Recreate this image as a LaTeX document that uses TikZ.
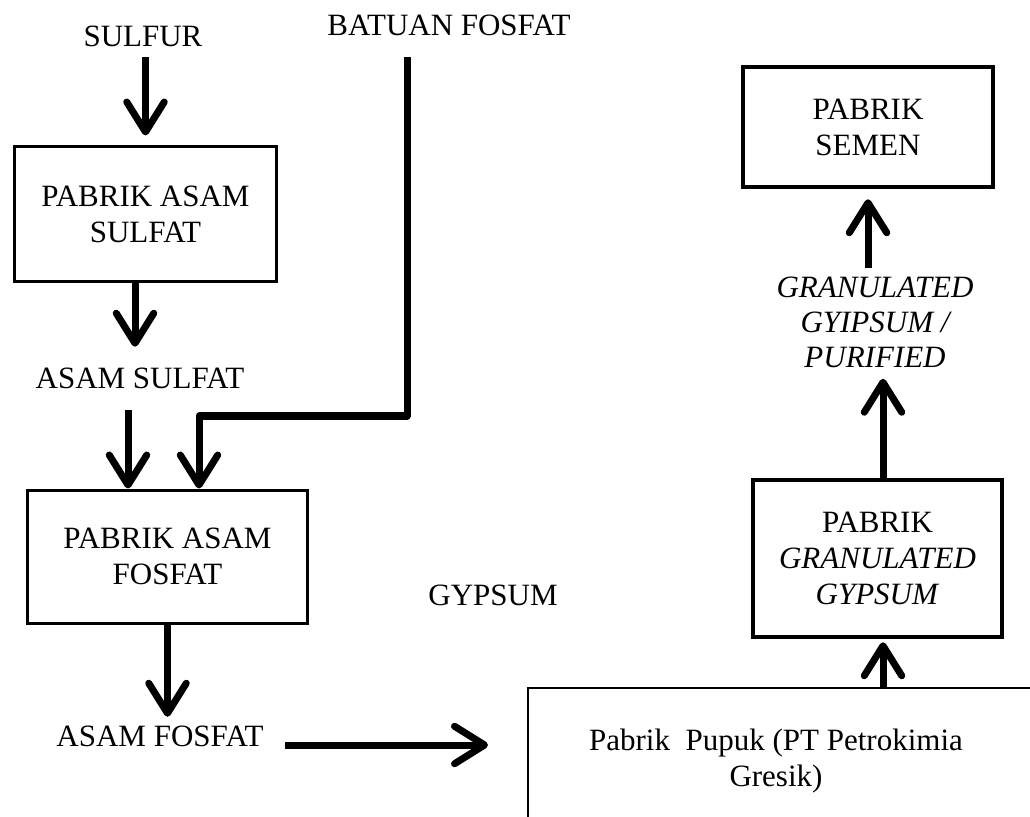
\documentclass[tikz,border=0pt]{standalone}
\usepackage{fontspec}
\setmainfont{Liberation Serif}
\usetikzlibrary{arrows.meta,positioning}

\begin{document}
\begin{tikzpicture}[
  x=0.4pt, y=-0.4pt,
  every node/.style={font=\fontsize{12.4pt}{14.4pt}\selectfont, align=center},
  outline/.style={draw, line width=1.2pt, inner sep=0mm},
  plant/.style={outline, minimum width=104.4pt, minimum height=54pt},
  bigplant/.style={outline, line width=1.8pt},
  flow/.style={line width=2.8pt, line join=round, -{Straight Barb[length=12pt,width=15pt,round]}}
]
\useasboundingbox (0,0) rectangle (1030,817);

% raw materials
\node (Sulfur) at (143,36) {SULFUR};
\node (Batuan) at (449,25) {BATUAN FOSFAT};

% sulfuric acid
\node[plant] (PAS) at (145.5,214.5) {PABRIK ASAM\\SULFAT};
\node (ASul) at (140,378) {ASAM SULFAT};

% phosphoric acid
\node[plant, minimum width=111.6pt, minimum height=53.2pt] (PAF) at (167.5,556.5) {PABRIK ASAM\\FOSFAT};
\node (AFos) at (160,736) {ASAM FOSFAT};
\node (Gypsum) at (493,595) {GYPSUM};

% fertilizer plant, cut by the page edge
\begin{scope}
\clip (0,0) rectangle (1030,817);
\node[outline, line width=0.8pt, anchor=north west, minimum width=240pt, minimum height=80pt] (Pupuk) at (527,687) {};
\end{scope}
\node (PupukText) at (776,761) {Pabrik\ \ Pupuk (PT Petrokimia\\Gresik)};

% gypsum to cement
\node[bigplant, minimum width=99.6pt, minimum height=62.8pt] (GGran) at (877.5,558.5) {PABRIK\\\textit{GRANULATED}\\\textit{GYPSUM}};
\node[font=\fontsize{12.4pt}{14pt}\selectfont\itshape] (GLabel) at (875,322) {GRANULATED\\GYIPSUM /\\PURIFIED};
\node[bigplant, minimum width=100pt, minimum height=48pt] (Semen) at (868,127) {PABRIK\\SEMEN};

\coordinate (FosBend) at (407,416);

\draw[flow, shorten <=0.8pt, shorten >=4pt] (PAS.north |- Sulfur.south) -- (PAS.north);
\draw[flow, shorten >=4.8pt] ([xshift=-4.2pt]PAS.south) -- ([xshift=-4.2pt]PAS.south |- ASul.north);
\draw[flow, shorten <=5.2pt] ([xshift=-15.8pt]PAF.north |- ASul.south) -- ([xshift=-15.8pt]PAF.north);
\draw[flow, shorten <=5.2pt] (Batuan.south -| FosBend) -- (FosBend) -| ([xshift=12.6pt]PAF.north);
\draw[flow] (PAF.south) -- (PAF.south |- AFos.north);
\draw[flow, shorten <=5.2pt, shorten >=15.6pt] ([yshift=-3.6pt]AFos.east) -- ([yshift=-3.6pt]AFos.east -| Pupuk.west);

\draw[flow, shorten >=1.2pt] ([xshift=2.2pt]GGran.south |- Pupuk.north) -- ([xshift=2.2pt]GGran.south);
\draw[flow, shorten >=1pt] ([xshift=2.2pt]GGran.north) -- ([xshift=2.2pt]GGran.north |- GLabel.south);
\draw[flow, shorten >=4pt] (Semen.south |- GLabel.north) -- (Semen.south);

\end{tikzpicture}
\end{document}
